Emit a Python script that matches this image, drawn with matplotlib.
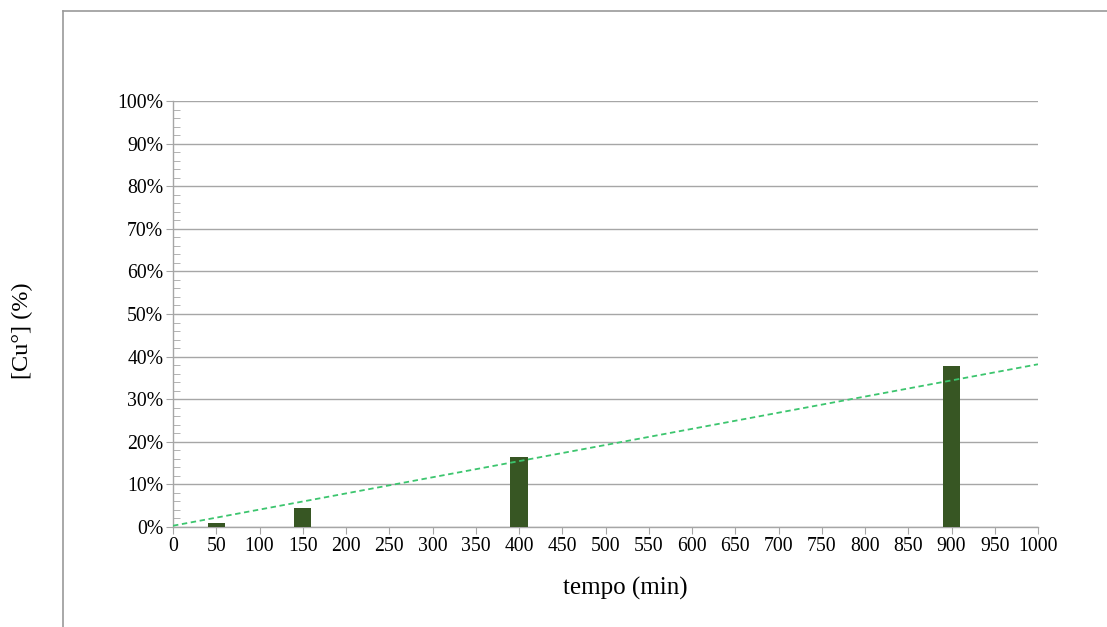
import matplotlib
matplotlib.use("Agg")
import matplotlib.pyplot as plt
from matplotlib.ticker import MultipleLocator, FuncFormatter
from matplotlib.lines import Line2D

# Measured copper fraction over time
tempo_min = [50, 150, 400, 900]
cu_pct = [0.9, 4.5, 16.4, 37.8]

# Linear trend line parameters (intercept in %, slope in %/min)
trend_intercept = 0.3
trend_slope = 0.0379

bar_color = "#375623"
trend_color = "#3cc56e"
grid_color = "#a6a6a6"

plt.rcParams["font.family"] = ["Liberation Serif", "DejaVu Serif"]

W, H = 1107, 627
fig = plt.figure(figsize=(W / 100, H / 100), dpi=100)
ax = fig.add_axes([173 / W, 1 - 527 / H, (1038 - 173) / W, (527 - 101) / H])

ax.bar(tempo_min, cu_pct, width=20, color=bar_color, zorder=3)

tx = [0, 1000]
ty = [trend_intercept + trend_slope * x for x in tx]
ax.plot(tx, ty, linestyle=(0, (3, 2)), color=trend_color, linewidth=1.3, zorder=4)

ax.set_xlim(0, 1000)
ax.set_ylim(0, 100)
ax.xaxis.set_major_locator(MultipleLocator(50))
ax.yaxis.set_major_locator(MultipleLocator(10))
ax.yaxis.set_minor_locator(MultipleLocator(2))
ax.yaxis.set_major_formatter(FuncFormatter(lambda v, p: f"{int(round(v))}%"))

ax.grid(axis="y", which="major", color=grid_color, linewidth=1.0, zorder=1)
for s in ["top", "right"]:
    ax.spines[s].set_visible(False)
ax.spines["left"].set_color(grid_color)
ax.spines["bottom"].set_color(grid_color)
ax.spines["left"].set_linewidth(1.0)
ax.spines["bottom"].set_linewidth(1.0)

ax.tick_params(axis="both", which="major", labelsize=14.2, color=grid_color,
               length=5, direction="out", pad=2)
ax.tick_params(axis="y", which="minor", color=grid_color, length=5, direction="in")
ax.tick_params(axis="x", which="major", pad=2)

# Axis titles
fig.text(625 / W, 1 - 588 / H, "tempo (min)", fontsize=18, ha="center", va="center")
fig.text(22 / W, 1 - 331 / H, "[Cu°] (%)", fontsize=17.5, ha="center", va="center",
         rotation=90)

# Outer chart-area border (top and left edges)
fig.add_artist(Line2D([63 / W, 1], [1 - 11 / H, 1 - 11 / H],
                      transform=fig.transFigure, color="#9a9a9a", linewidth=1.2))
fig.add_artist(Line2D([63 / W, 63 / W], [0, 1 - 11 / H],
                      transform=fig.transFigure, color="#9a9a9a", linewidth=1.2))

fig.savefig("out.png", dpi=100)
